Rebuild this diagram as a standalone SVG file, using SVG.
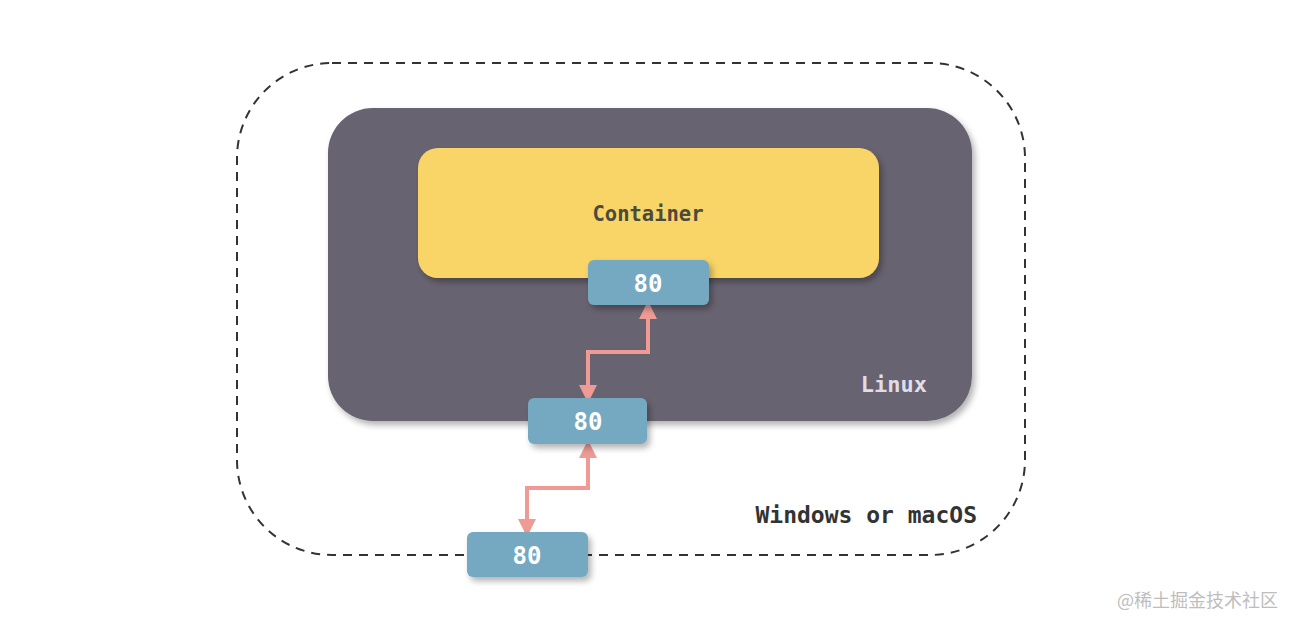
<svg xmlns="http://www.w3.org/2000/svg" width="1297" height="629" viewBox="0 0 1297 629">
<defs>
<filter id="sh" x="-20%" y="-20%" width="140%" height="150%">
<feDropShadow dx="3" dy="4" stdDeviation="3" flood-color="#000" flood-opacity="0.3"/>
</filter>
<marker id="ah" viewBox="0 0 10 10" refX="5" refY="5" markerWidth="4.5" markerHeight="4.5" orient="auto-start-reverse" markerUnits="strokeWidth">
<path d="M0,0 L10,5 L0,10 z" fill="#ef9a94"/>
</marker>
<style>
.mono{font-family:"DejaVu Sans Mono","Liberation Mono",monospace;font-weight:bold;}
.port rect{fill:#74a9c2;filter:url(#sh);}
.port text{fill:#ffffff;font-size:24px;text-anchor:middle;}
.conn{fill:none;stroke:#ef9a94;stroke-width:4;marker-start:url(#ah);marker-end:url(#ah);}
</style>
</defs>
<rect width="1297" height="629" fill="#ffffff"/>
<g id="host">
<rect x="237" y="63" width="788" height="492" rx="95" fill="none" stroke="#333" stroke-width="2" stroke-dasharray="9,7"/>
<text class="mono" x="977" y="523" text-anchor="end" font-size="23" fill="#333">Windows or macOS</text>
</g>
<g id="linux">
<rect x="328" y="108" width="644" height="313" rx="45" fill="#68646f" filter="url(#sh)"/>
<text class="mono" x="927" y="392" text-anchor="end" font-size="22" fill="#e0dde6">Linux</text>
</g>
<g id="container">
<rect x="418" y="148" width="461" height="130" rx="20" fill="#f9d466" filter="url(#sh)"/>
<text class="mono" x="648" y="221" text-anchor="middle" font-size="20.5" fill="#4a4a3e">Container</text>
</g>
<g id="connectors">
<path class="conn" d="M648,310 V352 H588 V394"/>
<path class="conn" d="M588,449 V488 H527 V528"/>
</g>
<g id="port-container" class="port">
<rect x="588" y="260" width="121" height="45" rx="6"/>
<text class="mono" x="648" y="292">80</text>
</g>
<g id="port-linux" class="port">
<rect x="528" y="398" width="119" height="46" rx="6"/>
<text class="mono" x="588" y="430">80</text>
</g>
<g id="port-host" class="port">
<rect x="467" y="532" width="121" height="45" rx="6"/>
<text class="mono" x="527" y="564">80</text>
</g>
<text x="1278" y="607" text-anchor="end" font-size="18" fill="#bdbdbd" font-family="'Noto Sans CJK SC',sans-serif">@稀土掘金技术社区</text>
</svg>
